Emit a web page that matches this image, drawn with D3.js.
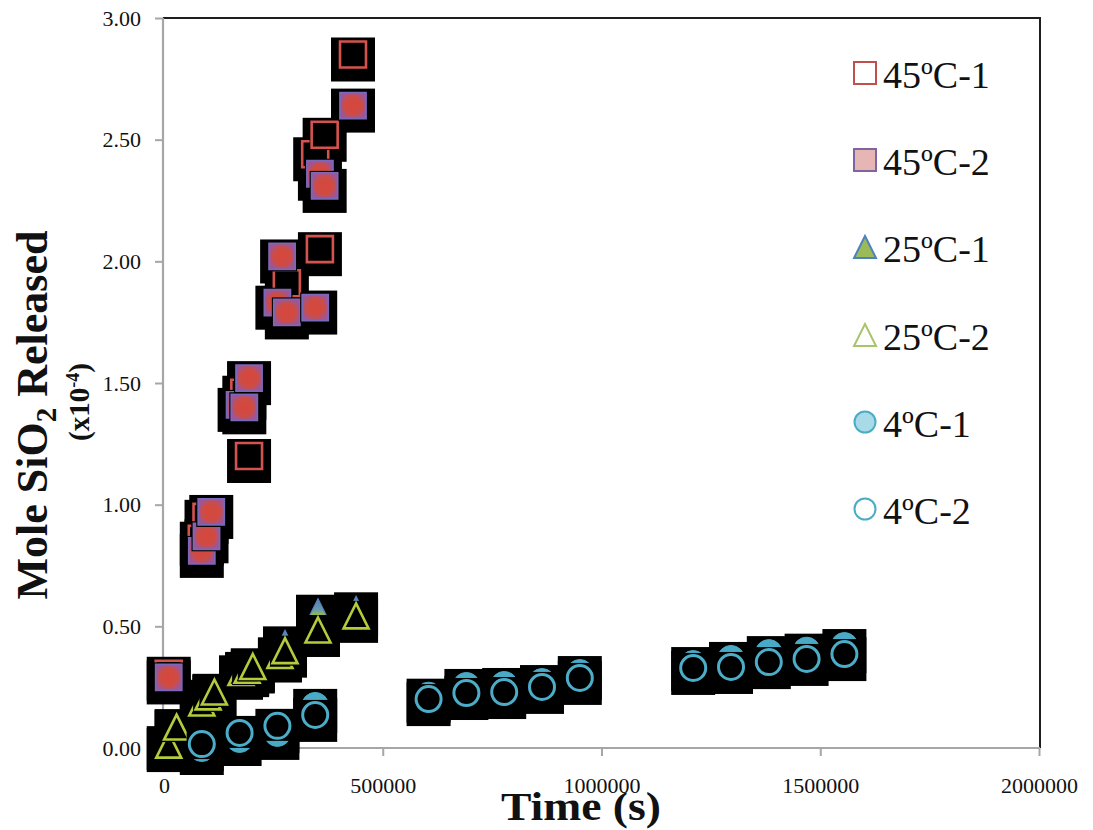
<!DOCTYPE html>
<html>
<head>
<meta charset="utf-8">
<script src="https://cdn.jsdelivr.net/npm/d3@7"></script>
<style>
  body { margin: 0; background: #fff; }
  svg { display: block; }
</style>
</head>
<body>
<svg id="chart" width="1093" height="830"></svg>
<script>
// ---- data ----
const xTicks = [0, 500000, 1000000, 1500000, 2000000];
const yTicks = [0, 0.5, 1.0, 1.5, 2.0, 2.5, 3.0];
const seriesNames = ["45ºC-1", "45ºC-2", "25ºC-1", "25ºC-2", "4ºC-1", "4ºC-2"];

// 45 ºC, replicate 1 (open squares)
const time45a = [10800, 86400, 97200, 183600, 194400, 280800, 345600, 356400, 367200, 432000];
const mole45a = [0.305, 0.86, 0.95, 1.46, 1.20, 1.91, 2.44, 2.05, 2.52, 2.85];
// 45 ºC, replicate 2 (filled squares)
const time45b = [10800, 86400, 97200, 108000, 172800, 183600, 194400, 259200, 270000, 280800, 345600, 356400, 367200, 432000];
const mole45b = [0.29, 0.81, 0.87, 0.97, 1.41, 1.40, 1.52, 1.83, 2.02, 1.79, 1.81, 2.36, 2.31, 2.64];
// 25 ºC, replicate 1 (filled triangles)
const time25a = [10800, 28800, 86400, 100800, 115200, 176000, 190000, 203000, 265000, 276600, 352000, 439000];
const mole25a = [0.02, 0.09, 0.19, 0.21, 0.235, 0.31, 0.325, 0.34, 0.385, 0.43, 0.56, 0.57];
// 25 ºC, replicate 2 (open triangles)
const time25b = [10800, 28800, 86400, 100800, 115200, 176000, 190000, 203000, 265000, 276600, 352000, 439000];
const mole25b = [0.012, 0.086, 0.185, 0.21, 0.23, 0.31, 0.32, 0.335, 0.38, 0.40, 0.485, 0.543];
// 4 ºC, replicate 1 (filled circles)
const time4a = [86400, 172800, 259200, 345600, 604800, 691200, 777600, 864000, 950400, 1209600, 1296000, 1382400, 1468800, 1555200];
const mole4a = [0.0, 0.037, 0.062, 0.173, 0.215, 0.255, 0.259, 0.271, 0.308, 0.345, 0.366, 0.39, 0.40, 0.419];
// 4 ºC, replicate 2 (open circles)
const time4b = [86400, 172800, 259200, 345600, 604800, 691200, 777600, 864000, 950400, 1209600, 1296000, 1382400, 1468800, 1555200];
const mole4b = [0.016, 0.062, 0.091, 0.136, 0.201, 0.226, 0.230, 0.251, 0.288, 0.329, 0.333, 0.353, 0.366, 0.386];

// ---- layout ----
const svg = d3.select("#chart");
const x = d3.scaleLinear().domain([0, 2000000]).range([164, 1039]);
const y = d3.scaleLinear().domain([0, 3]).range([748, 18]);

// gradients for the shaded plot markers
const defs = svg.append("defs");
const sqGrad = defs.append("radialGradient").attr("id", "sqFill");
sqGrad.append("stop").attr("offset", "0%").attr("stop-color", "#d8463a");
sqGrad.append("stop").attr("offset", "72%").attr("stop-color", "#cc4c46");
sqGrad.append("stop").attr("offset", "100%").attr("stop-color", "#a05592");
const triGrad = defs.append("linearGradient").attr("id", "triFill")
  .attr("x1", 0).attr("y1", 0).attr("x2", 0).attr("y2", 1);
triGrad.append("stop").attr("offset", "0%").attr("stop-color", "#4f7cc4");
triGrad.append("stop").attr("offset", "45%").attr("stop-color", "#6a9ca8");
triGrad.append("stop").attr("offset", "65%").attr("stop-color", "#9cc23a");
triGrad.append("stop").attr("offset", "100%").attr("stop-color", "#a4c43c");

// ---- frame and axes ----
svg.append("line").attr("x1", 163).attr("x2", 1040).attr("y1", 18).attr("y2", 18)
  .attr("stroke", "#1e1e1e").attr("stroke-width", 2);
svg.append("line").attr("x1", 1040).attr("x2", 1040).attr("y1", 17).attr("y2", 748)
  .attr("stroke", "#1e1e1e").attr("stroke-width", 2);

const yAxis = svg.append("g").attr("transform", "translate(163,0)")
  .call(d3.axisLeft(y).tickValues(yTicks).tickFormat(d3.format(".2f")).tickSize(8).tickPadding(14));
const xAxis = svg.append("g").attr("transform", "translate(0,748)")
  .call(d3.axisBottom(x).tickValues(xTicks).tickFormat(d3.format("d")).tickSize(8).tickPadding(21));

[yAxis, xAxis].forEach(ax => {
  ax.select(".domain").attr("stroke", "#a6a6a6").attr("stroke-width", 2.2);
  ax.selectAll(".tick line").attr("stroke", "#a6a6a6").attr("stroke-width", 2);
  ax.selectAll(".tick text").attr("fill", "#111")
    .style("font-family", "'Liberation Serif', serif").style("font-size", "22px");
});
yAxis.select(".domain").attr("d", "M0,18V748");
xAxis.select(".domain").attr("d", "M163,0H1040");

// ---- marker shapes ----
function shapePath(kind, s) {
  const h = s / 2;
  if (kind === "square") return `M${-h},${-h}H${h}V${h}H${-h}Z`;
  if (kind === "triangle") return `M0,${-h}L${h},${h}L${-h},${h}Z`;
  const r = h;
  return `M${r},0A${r},${r} 0 1,1 ${-r},0A${r},${r} 0 1,1 ${r},0Z`;
}

const plotStyles = [
  { kind: "square",   size: 26, fill: "none",           stroke: "#d5534e", sw: 2.6 },
  { kind: "square",   size: 26, fill: "url(#sqFill)",   stroke: "#7a68b8", sw: 1.8 },
  { kind: "triangle", size: 26, fill: "url(#triFill)",  stroke: "#5a84bc", sw: 1.2 },
  { kind: "triangle", size: 25, fill: "none",           stroke: "#b4cb3e", sw: 2.6 },
  { kind: "circle",   size: 27, fill: "#4aaac6",        stroke: "#4aaac6", sw: 1.0 },
  { kind: "circle",   size: 25, fill: "none",           stroke: "#4cadc8", sw: 3.0 }
];

const series = [
  [time45a, mole45a], [time45b, mole45b],
  [time25a, mole25a], [time25b, mole25b],
  [time4a, mole4a],   [time4b, mole4b]
].map(([t, v], i) => ({ name: seriesNames[i], style: plotStyles[i], points: t.map((d, j) => ({ t: d, v: v[j] })) }));

// drop-shadow layer: one dark tile under every marker, drawn before any marker
const shadows = svg.append("g").attr("class", "shadows");
series.forEach(s => {
  shadows.append("g").selectAll("rect").data(s.points).join("rect")
    .attr("x", d => x(d.t) - 22).attr("y", d => y(d.v) - 17)
    .attr("width", 44).attr("height", 44).attr("fill", "#000");
});

// markers, each on its own small dark backing square, series by series
const plot = svg.append("g");
series.forEach(s => {
  const g = plot.append("g").attr("class", "series")
    .selectAll("g").data(s.points).join("g")
    .attr("transform", d => `translate(${x(d.t)},${y(d.v)})`);
  g.append("rect").attr("x", -15).attr("y", -15).attr("width", 30).attr("height", 30).attr("fill", "#000");
  g.append("path").attr("d", shapePath(s.style.kind, s.style.size))
    .attr("fill", s.style.fill).attr("stroke", s.style.stroke).attr("stroke-width", s.style.sw);
});

// ---- legend ----
const legendStyles = [
  { kind: "square",   size: 22, fill: "#ffffff", stroke: "#c0504d" },
  { kind: "square",   size: 22, fill: "#e6b6b4", stroke: "#8064a2" },
  { kind: "triangle", size: 22, fill: "#9bbb59", stroke: "#4f81bd" },
  { kind: "triangle", size: 22, fill: "#ffffff", stroke: "#a9c46c" },
  { kind: "circle",   size: 21, fill: "#a8dbe7", stroke: "#4bacc6" },
  { kind: "circle",   size: 21, fill: "#ffffff", stroke: "#4bacc6" }
];
const legendY = [73, 160, 247, 335, 422, 509];
const legend = svg.append("g").selectAll("g").data(seriesNames).join("g")
  .attr("transform", (d, i) => `translate(865,${legendY[i]})`);
legend.append("path").attr("d", (d, i) => shapePath(legendStyles[i].kind, legendStyles[i].size))
  .attr("fill", (d, i) => legendStyles[i].fill)
  .attr("stroke", (d, i) => legendStyles[i].stroke).attr("stroke-width", 2);
legend.append("text").attr("x", 18).attr("y", 15).text(d => d)
  .style("font-family", "'Liberation Serif', serif").style("font-size", "38px").attr("fill", "#111");

// ---- axis titles ----
svg.append("text").attr("x", 581).attr("y", 820).attr("text-anchor", "middle")
  .attr("textLength", 160).attr("lengthAdjust", "spacingAndGlyphs")
  .style("font-family", "'Liberation Serif', serif").style("font-weight", "bold").style("font-size", "41px")
  .attr("fill", "#111").text("Time (s)");

const yTitle = svg.append("text").attr("transform", "translate(47,415) rotate(-90)").attr("text-anchor", "middle")
  .style("font-family", "'Liberation Serif', serif").style("font-weight", "bold").style("font-size", "44px")
  .attr("fill", "#111");
yTitle.append("tspan").text("Mole SiO");
yTitle.append("tspan").attr("dy", 9).style("font-size", "29px").text("2");
yTitle.append("tspan").attr("dy", -9).text(" Released");

const yUnit = svg.append("text").attr("transform", "translate(89,402) rotate(-90)").attr("text-anchor", "middle")
  .style("font-family", "'Liberation Serif', serif").style("font-weight", "bold").style("font-size", "29px")
  .attr("fill", "#111");
yUnit.append("tspan").text("(x10");
yUnit.append("tspan").attr("dy", -10).style("font-size", "18px").text("-4");
yUnit.append("tspan").attr("dy", 10).text(")");
</script>
</body>
</html>
